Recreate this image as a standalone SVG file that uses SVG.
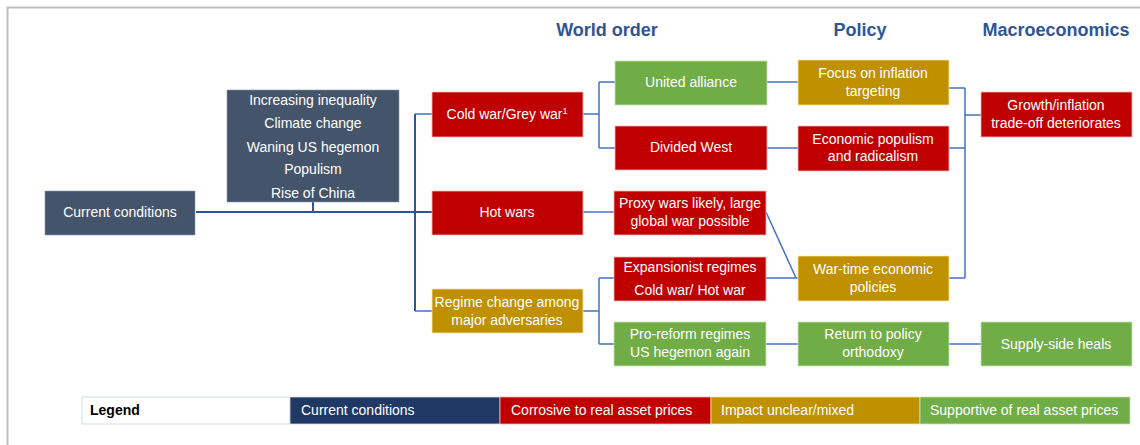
<svg xmlns="http://www.w3.org/2000/svg" width="1140" height="445" viewBox="0 0 1140 445">
<style>
text{font-family:"Liberation Sans",Arial,sans-serif;font-size:14px;fill:#ffffff;text-anchor:middle}
.h{font-size:18px;font-weight:bold;fill:#2F5597}
.lg{text-anchor:start}
.slate{fill:#44546A;stroke:#8497B0;stroke-width:0.6}
.red{fill:#C00000;stroke:#F4B6B6;stroke-width:0.8}
.gold{fill:#BF9000;stroke:#FFE699;stroke-width:0.8}
.green{fill:#70AD47;stroke:#C5E0B4;stroke-width:0.8}
.c{fill:none;stroke:#4472C4;stroke-width:1.5}
.cm{fill:none;stroke:#2F5597;stroke-width:2}
</style>
<g id="frame" fill="none" stroke="#BFBFBF" stroke-width="2">
<path d="M7.5,445 V7.5 H1140"/>
</g>
<g id="headers">
<text class="h" x="607" y="36">World order</text>
<text class="h" x="860" y="36">Policy</text>
<text class="h" x="1056" y="36">Macroeconomics</text>
</g>
<g id="connectors">
<path class="cm" d="M196,212 H432 M313,202 V212 M415,114 V311"/>
<path class="c" d="M415,114 H432 M415,311 H432"/>
<path class="c" d="M583,114 H599 M599,82 V148 M599,82 H615 M599,148 H615"/>
<path class="c" d="M583,212 H614"/>
<path class="c" d="M583,311 H599 M599,278 V344 M599,278 H614 M599,344 H614"/>
<path class="c" d="M767,82 H798 M767,148 H798"/>
<path class="c" d="M766,212 L796,278 M766,278 H798"/>
<path class="c" d="M766,344 H798"/>
<path class="c" d="M949,88 H965 M949,148 H965 M949,278 H965 M965,88 V278 M965,115 H981"/>
<path class="c" d="M949,344 H981"/>
</g>
<g id="current">
<rect class="slate" x="45" y="191" width="150" height="44"/>
<text x="120" y="217">Current conditions</text>
</g>
<g id="conditions">
<rect class="slate" x="227" y="90" width="172" height="112"/>
<text x="313" y="105">Increasing inequality</text>
<text x="313" y="128">Climate change</text>
<text x="313" y="152">Waning US hegemon</text>
<text x="313" y="174">Populism</text>
<text x="313" y="198">Rise of China</text>
</g>
<g id="coldwar">
<rect class="red" x="432" y="92" width="151" height="45"/>
<text x="507" y="119">Cold war/Grey war<tspan font-size="9" dy="-5">1</tspan></text>
</g>
<g id="hotwars">
<rect class="red" x="432" y="191" width="151" height="44"/>
<text x="507" y="217">Hot wars</text>
</g>
<g id="regime">
<rect class="gold" x="432" y="289" width="151" height="44"/>
<text x="507" y="307">Regime change among</text>
<text x="507" y="325">major adversaries</text>
</g>
<g id="united">
<rect class="green" x="615" y="61" width="152" height="44"/>
<text x="691" y="87">United alliance</text>
</g>
<g id="divided">
<rect class="red" x="615" y="126" width="152" height="44"/>
<text x="691" y="152">Divided West</text>
</g>
<g id="proxy">
<rect class="red" x="614" y="191" width="152" height="44"/>
<text x="690" y="208">Proxy wars likely, large</text>
<text x="690" y="226">global war possible</text>
</g>
<g id="expansionist">
<rect class="red" x="614" y="257" width="152" height="44"/>
<text x="690" y="272">Expansionist regimes</text>
<text x="690" y="295">Cold war/ Hot war</text>
</g>
<g id="proreform">
<rect class="green" x="614" y="322" width="152" height="44"/>
<text x="690" y="339">Pro-reform regimes</text>
<text x="690" y="357">US hegemon again</text>
</g>
<g id="focus">
<rect class="gold" x="798" y="60" width="151" height="45"/>
<text x="873" y="78">Focus on inflation</text>
<text x="873" y="96">targeting</text>
</g>
<g id="populism">
<rect class="red" x="798" y="126" width="151" height="45"/>
<text x="873" y="144">Economic populism</text>
<text x="873" y="161">and radicalism</text>
</g>
<g id="wartime">
<rect class="gold" x="798" y="256" width="151" height="45"/>
<text x="873" y="274">War-time economic</text>
<text x="873" y="292">policies</text>
</g>
<g id="orthodoxy">
<rect class="green" x="798" y="322" width="151" height="44"/>
<text x="873" y="339">Return to policy</text>
<text x="873" y="357">orthodoxy</text>
</g>
<g id="growth">
<rect class="red" x="981" y="92" width="151" height="45"/>
<text x="1056" y="110">Growth/inflation</text>
<text x="1056" y="128">trade-off deteriorates</text>
</g>
<g id="supply">
<rect class="green" x="981" y="322" width="151" height="44"/>
<text x="1056" y="349">Supply-side heals</text>
</g>
<g id="legend">
<rect x="82" y="397" width="208" height="27" fill="#ffffff" stroke="#D6DCE4" stroke-width="1"/>
<rect x="290" y="397" width="210" height="27" fill="#203864" stroke="#D6DCE4" stroke-width="0.8"/>
<rect x="500" y="397" width="211" height="27" fill="#C00000" stroke="#F4B6B6" stroke-width="0.8"/>
<rect x="711" y="397" width="209" height="27" fill="#BF9000" stroke="#FFE699" stroke-width="0.8"/>
<rect x="920" y="397" width="210" height="27" fill="#70AD47" stroke="#C5E0B4" stroke-width="0.8"/>
<text class="lg" x="90" y="415" style="fill:#000000;font-weight:bold">Legend</text>
<text class="lg" x="301" y="415">Current conditions</text>
<text class="lg" x="511" y="415">Corrosive to real asset prices</text>
<text class="lg" x="721" y="415">Impact unclear/mixed</text>
<text class="lg" x="930" y="415">Supportive of real asset prices</text>
</g>
</svg>
